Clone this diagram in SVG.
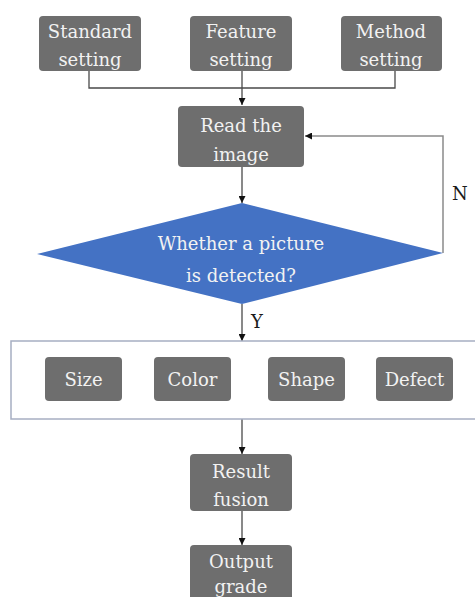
<svg xmlns="http://www.w3.org/2000/svg" width="475" height="597" viewBox="0 0 475 597">
<defs>
<style>
.box{fill:#6e6e6e;}
text{font-family:'DejaVu Serif',serif;font-size:18px;}
.t{fill:#f2f2f2;text-anchor:middle;}
.lbl{fill:#1a1a1a;}
.ln{fill:none;stroke:#4a4a4a;stroke-width:1.3;}
.lg{fill:none;stroke:#8a8a8a;stroke-width:1.5;}
</style>
<marker id="ah" viewBox="0 0 10 10" refX="10" refY="5" markerWidth="7" markerHeight="7" markerUnits="userSpaceOnUse" orient="auto">
<path d="M0,0 L10,5 L0,10 z" fill="#111"/>
</marker>
</defs>
<rect width="475" height="597" fill="#ffffff"/>
<g id="connectors">
<path class="ln" d="M89,71 V88 H395 V71"/>
<path class="ln" d="M242,71 V105" marker-end="url(#ah)"/>
<path class="ln" d="M242,167 V203" marker-end="url(#ah)"/>
<path class="lg" d="M443,253 V136 H305" marker-end="url(#ah)"/>
<path class="ln" d="M242,304 V341" marker-end="url(#ah)"/>
<path class="ln" d="M242,419 V454" marker-end="url(#ah)"/>
<path class="ln" d="M242,511 V545" marker-end="url(#ah)"/>
<text class="lbl" x="452" y="200">N</text>
<text class="lbl" x="251" y="328">Y</text>
</g>
<g id="standard"><rect class="box" x="39" y="16" width="102" height="55" rx="4"/><text class="t" x="90" y="38">Standard</text><text class="t" x="90" y="66">setting</text></g>
<g id="feature"><rect class="box" x="190" y="16" width="102" height="55" rx="4"/><text class="t" x="241" y="38">Feature</text><text class="t" x="241" y="66">setting</text></g>
<g id="method"><rect class="box" x="341" y="16" width="101" height="55" rx="4"/><text class="t" x="391" y="38">Method</text><text class="t" x="391" y="66">setting</text></g>
<g id="read"><rect class="box" x="178" y="106" width="126" height="61" rx="4"/><text class="t" x="241" y="132">Read the</text><text class="t" x="241" y="161">image</text></g>
<g id="decision"><polygon points="242,203 443,253 242,304 37,254" fill="#4472c4"/><text class="t" x="241" y="250">Whether a picture</text><text class="t" x="241" y="282">is detected?</text></g>
<g id="features">
<rect x="11" y="341" width="470" height="78" fill="#ffffff" stroke="#a7aec2" stroke-width="1.5"/>
<g id="size"><rect class="box" x="45" y="357" width="77" height="44" rx="4"/><text class="t" x="83.5" y="386">Size</text></g>
<g id="color"><rect class="box" x="154" y="357" width="77" height="44" rx="4"/><text class="t" x="192.5" y="386">Color</text></g>
<g id="shape"><rect class="box" x="268" y="357" width="77" height="44" rx="4"/><text class="t" x="306.5" y="386">Shape</text></g>
<g id="defect"><rect class="box" x="376" y="357" width="77" height="44" rx="4"/><text class="t" x="414.5" y="386">Defect</text></g>
</g>
<g id="fusion"><rect class="box" x="190" y="454" width="102" height="57" rx="4"/><text class="t" x="241" y="478">Result</text><text class="t" x="241" y="506">fusion</text></g>
<g id="output"><rect class="box" x="190" y="545" width="102" height="60" rx="4"/><text class="t" x="241" y="568">Output</text><text class="t" x="241" y="593">grade</text></g>
</svg>
